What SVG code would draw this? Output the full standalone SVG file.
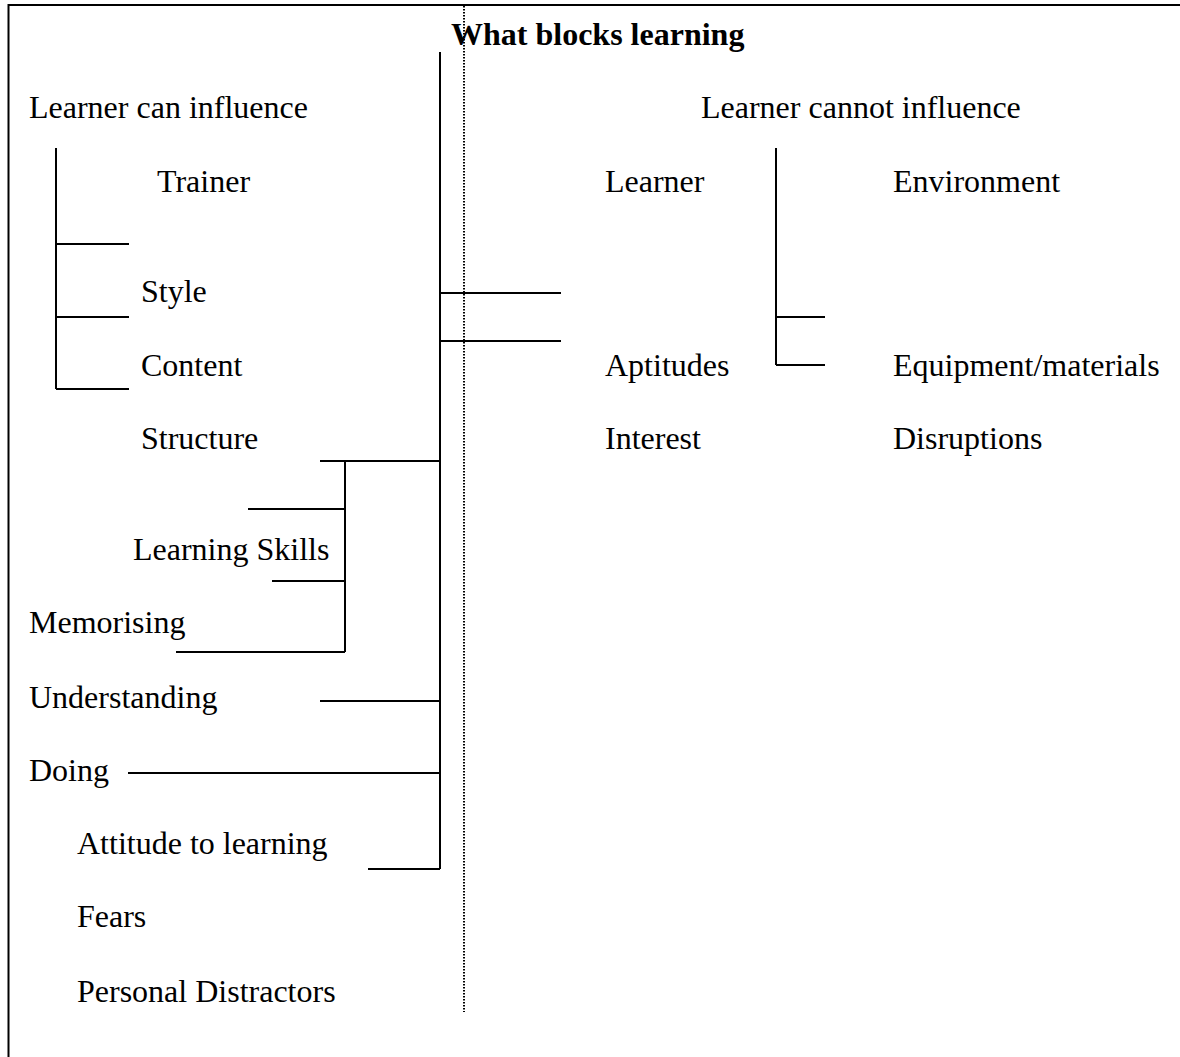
<svg xmlns="http://www.w3.org/2000/svg" width="1180" height="1057" viewBox="0 0 1180 1057">
<style>
text{font-family:"Liberation Serif","Times New Roman",serif;font-size:32px;fill:#000}
.title{font-weight:bold}
.ln{stroke:#000;stroke-width:2;fill:none}
.frame{stroke:#000;stroke-width:2;fill:none}
.dot{stroke:#000;stroke-width:2;stroke-dasharray:1.5 1.5;fill:none}
</style>
<rect width="1180" height="1057" fill="#fff"/>
<path class="frame" d="M8.5,1057 V5 H1180"/>
<line class="dot" x1="464" y1="6" x2="464" y2="1012"/>
<g id="connectors">
<path class="ln" d="M440,52 V869"/>
<path class="ln" d="M440,293 H561 M440,341 H561"/>
<path class="ln" d="M320,461 H440 M345,461 V652 M248,509 H345 M272,581 H345 M176,652 H345"/>
<path class="ln" d="M320,701 H440 M128,773 H440 M368,869 H440"/>
<path class="ln" d="M56,148 V389 M56,244 H129 M56,317 H129 M56,389 H129"/>
<path class="ln" d="M776,148 V365 M776,317 H825 M776,365 H825"/>
</g>
<g id="title"><text class="title" x="451" y="45">What blocks learning</text></g>
<g id="can-influence"><text x="29" y="118">Learner can influence</text></g>
<g id="trainer"><text x="157" y="192">Trainer</text></g>
<g id="style"><text x="141" y="302">Style</text></g>
<g id="content"><text x="141" y="376">Content</text></g>
<g id="structure"><text x="141" y="449">Structure</text></g>
<g id="learning-skills"><text x="133" y="560">Learning Skills</text></g>
<g id="memorising"><text x="29" y="633">Memorising</text></g>
<g id="understanding"><text x="29" y="708">Understanding</text></g>
<g id="doing"><text x="29" y="781">Doing</text></g>
<g id="attitude"><text x="77" y="854">Attitude to learning</text></g>
<g id="fears"><text x="77" y="927">Fears</text></g>
<g id="distractors"><text x="77" y="1002">Personal Distractors</text></g>
<g id="cannot-influence"><text x="701" y="118">Learner cannot influence</text></g>
<g id="learner"><text x="605" y="192">Learner</text></g>
<g id="aptitudes"><text x="605" y="376">Aptitudes</text></g>
<g id="interest"><text x="605" y="449">Interest</text></g>
<g id="environment"><text x="893" y="192">Environment</text></g>
<g id="equipment"><text x="893" y="376">Equipment/materials</text></g>
<g id="disruptions"><text x="893" y="449">Disruptions</text></g>
</svg>
